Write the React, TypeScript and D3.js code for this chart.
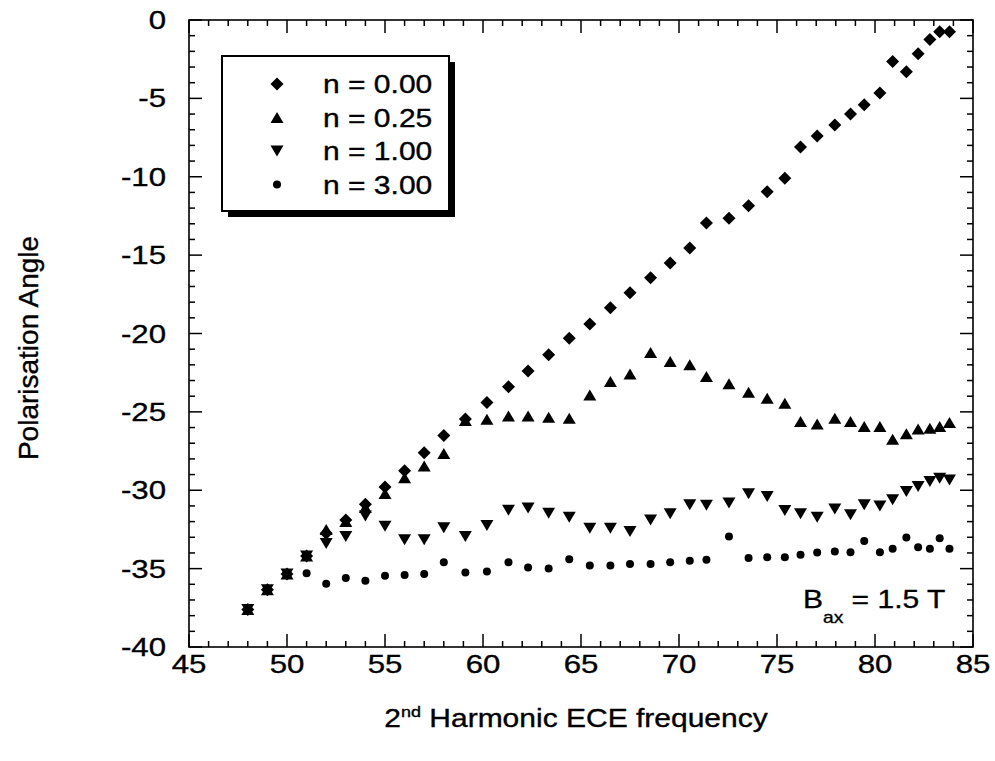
import React, { useEffect, useRef } from "react";
import * as d3 from "d3";

// 2nd harmonic ECE frequency (shared by all four series)
const freq = [
  48, 49, 50, 51, 52, 53, 54, 55, 56, 57, 58, 59.1, 60.2, 61.3, 62.3, 63.35, 64.4, 65.45, 66.5, 67.5,
  68.55, 69.55, 70.55, 71.4, 72.55, 73.55, 74.5, 75.4, 76.2, 77.05, 77.95, 78.75, 79.45, 80.25, 80.9,
  81.6, 82.2, 82.8, 83.3, 83.8,
];

const n000 = [
  -37.6, -36.35, -35.35, -34.2, -32.75, -31.9, -30.9, -29.8, -28.75, -27.6, -26.5, -25.45, -24.4, -23.4,
  -22.4, -21.35, -20.3, -19.4, -18.35, -17.4, -16.45, -15.5, -14.55, -12.95, -12.65, -11.85, -10.95,
  -10.1, -8.1, -7.4, -6.7, -6.0, -5.4, -4.65, -2.65, -3.3, -2.15, -1.25, -0.75, -0.75,
];

const n025 = [
  -37.6, -36.35, -35.35, -34.2, -32.5, -32.0, -31.1, -30.2, -29.2, -28.45, -27.65, -25.55, -25.47,
  -25.26, -25.26, -25.34, -25.4, -23.92, -23.07, -22.58, -21.22, -21.79, -22.0, -22.75, -23.2, -23.75,
  -24.13, -24.45, -25.62, -25.77, -25.4, -25.62, -25.94, -25.94, -26.74, -26.4, -26.1, -26.04, -25.94,
  -25.68,
];

const n100 = [
  -37.6, -36.35, -35.35, -34.2, -33.4, -32.95, -31.65, -32.3, -33.16, -33.16, -32.4, -32.95, -32.25,
  -31.27, -31.14, -31.46, -31.72, -32.42, -32.42, -32.63, -31.89, -31.5, -30.93, -30.95, -30.82, -30.23,
  -30.4, -31.29, -31.5, -31.72, -31.2, -31.57, -30.93, -31.0, -30.61, -30.08, -29.76, -29.44, -29.23,
  -29.34,
];

const n300 = [
  -37.6, -36.35, -35.35, -35.29, -35.97, -35.6, -35.78, -35.46, -35.4, -35.35, -34.6, -35.25, -35.18,
  -34.6, -34.93, -34.99, -34.4, -34.8, -34.8, -34.7, -34.7, -34.6, -34.5, -34.44, -32.95, -34.33,
  -34.27, -34.27, -34.12, -33.97, -33.9, -33.95, -33.23, -33.95, -33.74, -33.02, -33.63, -33.74, -33.06,
  -33.74,
];

const xTicks = [45, 50, 55, 60, 65, 70, 75, 80, 85];
const yTicks = [0, -5, -10, -15, -20, -25, -30, -35, -40];
const legendLabels = ["n = 0.00", "n = 0.25", "n = 1.00", "n = 3.00"];

const W = 995;
const H = 761;
const FONT = "'Liberation Sans', Arial, Helvetica, sans-serif";
const SX = 1.2; // the scanned lettering is a bit wider than plain Helvetica

const markers: Record<string, string> = {
  diamond: "M0,-6.5L6.5,0L0,6.5L-6.5,0Z",
  up: "M0,-5.5L6.5,5.5L-6.5,5.5Z",
  down: "M-6.5,-5.5L6.5,-5.5L0,5.5Z",
  circle: "M4,0A4,4 0 1,1 -4,0A4,4 0 1,1 4,0Z",
};

const series = [
  { values: n000, marker: "diamond" },
  { values: n025, marker: "up" },
  { values: n100, marker: "down" },
  { values: n300, marker: "circle" },
];

const App = () => {
  const svgRef = useRef<SVGSVGElement>(null);

  useEffect(() => {
    const svg = d3.select(svgRef.current);
    svg.selectAll("*").remove();

    const x = d3.scaleLinear().domain([45, 85]).range([189, 973]);
    const y = d3.scaleLinear().domain([-40, 0]).range([647, 20]);
    const [x0, x1] = x.range();
    const [y0, y1] = y.range();

    const label = (px: number, py: number, txt: string, anchor: string, size = 26) =>
      svg
        .append("text")
        .attr("transform", `translate(${px},${py}) scale(${SX},1)`)
        .attr("text-anchor", anchor)
        .attr("font-family", FONT)
        .attr("font-size", size)
        .attr("fill", "#000")
        .attr("stroke", "#000")
        .attr("stroke-width", 0.35)
        .text(txt);

    // frame
    svg
      .append("rect")
      .attr("x", x0)
      .attr("y", y1)
      .attr("width", x1 - x0)
      .attr("height", y0 - y1)
      .attr("fill", "none")
      .attr("stroke", "#000")
      .attr("stroke-width", 1.6);

    // inward ticks on all four sides, minor every 1, major every 5
    const ticks = svg.append("g").attr("stroke", "#000").attr("stroke-width", 1.5);
    const tlen = (v: number) => (Math.abs(v % 5) < 1e-9 ? 13 : 6);
    const xt = x.ticks(40);
    const yt = y.ticks(40);
    ticks.selectAll(".xb").data(xt).join("line").attr("x1", (d) => x(d)).attr("x2", (d) => x(d))
      .attr("y1", y0).attr("y2", (d) => y0 - tlen(d));
    ticks.selectAll(".xt").data(xt).join("line").attr("x1", (d) => x(d)).attr("x2", (d) => x(d))
      .attr("y1", y1).attr("y2", (d) => y1 + tlen(d));
    ticks.selectAll(".yl").data(yt).join("line").attr("y1", (d) => y(d)).attr("y2", (d) => y(d))
      .attr("x1", x0).attr("x2", (d) => x0 + tlen(d));
    ticks.selectAll(".yr").data(yt).join("line").attr("y1", (d) => y(d)).attr("y2", (d) => y(d))
      .attr("x1", x1).attr("x2", (d) => x1 - tlen(d));

    xTicks.forEach((v) => label(x(v), 673, String(v), "middle"));
    yTicks.forEach((v) => label(166, y(v) + 9, String(v), "end"));

    // axis titles
    const xt2 = svg
      .append("text")
      .attr("transform", `translate(576,727) scale(${SX},1)`)
      .attr("text-anchor", "middle")
      .attr("font-family", FONT)
      .attr("font-size", 25)
      .attr("stroke", "#000")
      .attr("stroke-width", 0.35);
    xt2.append("tspan").text("2");
    xt2.append("tspan").attr("font-size", 15).attr("dy", -10).text("nd");
    xt2.append("tspan").attr("dy", 10).text(" Harmonic ECE frequency");

    svg
      .append("text")
      .attr("transform", "translate(38,348) rotate(-90)")
      .attr("text-anchor", "middle")
      .attr("font-family", FONT)
      .attr("font-size", 28)
      .attr("stroke", "#000")
      .attr("stroke-width", 0.35)
      .text("Polarisation Angle");

    // data points
    series.forEach((s) => {
      svg
        .append("g")
        .selectAll("path")
        .data(freq.map((f, i) => [f, s.values[i]]))
        .join("path")
        .attr("d", markers[s.marker])
        .attr("transform", (d) => `translate(${x(d[0])},${y(d[1])})`)
        .attr("fill", "#000");
    });

    // legend with drop shadow
    const lg = svg.append("g");
    lg.append("rect").attr("x", 228).attr("y", 62).attr("width", 227).attr("height", 155).attr("fill", "#000");
    lg.append("rect").attr("x", 222).attr("y", 56).attr("width", 227).attr("height", 155)
      .attr("fill", "#fff").attr("stroke", "#000").attr("stroke-width", 2);
    legendLabels.forEach((t, i) => {
      const cy = 84 + i * 33.5;
      lg.append("path").attr("d", markers[series[i].marker]).attr("transform", `translate(277,${cy})`).attr("fill", "#000");
      label(323, cy + 9, t, "start", 25);
    });

    // field annotation
    const b = svg
      .append("text")
      .attr("transform", `translate(803,608) scale(${SX},1)`)
      .attr("font-family", FONT)
      .attr("font-size", 25)
      .attr("stroke", "#000")
      .attr("stroke-width", 0.35);
    b.append("tspan").text("B");
    b.append("tspan").attr("font-size", 16).attr("dy", 15).text("ax");
    b.append("tspan").attr("dy", -15).text(" = 1.5 T");
  }, []);

  return (
    <svg
      ref={svgRef}
      width={W}
      height={H}
      style={{ position: "absolute", left: 0, top: 0, background: "#fff" }}
    />
  );
};

export default App;
